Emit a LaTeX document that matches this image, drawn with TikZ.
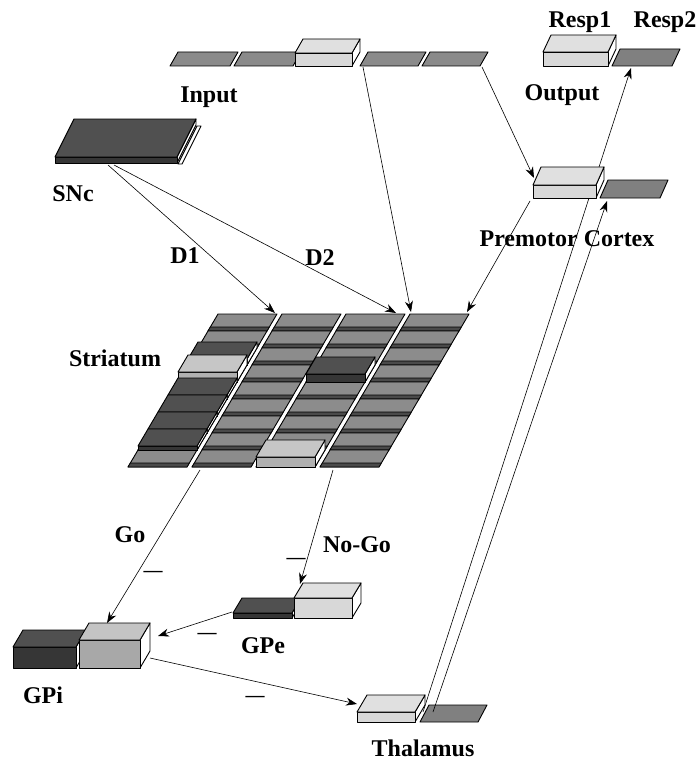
\documentclass[tikz,border=0pt]{standalone}
\usepackage{fontspec}
\setmainfont{Liberation Serif}
\usetikzlibrary{arrows.meta}
\definecolor{ingray}{HTML}{8A8A8A}
\definecolor{midgray}{HTML}{808080}
\definecolor{lightbox}{HTML}{E0E0E0}
\definecolor{lightfront}{HTML}{D8D8D8}
\definecolor{sgray}{HTML}{8C8C8C}
\definecolor{sband}{HTML}{4A4A4A}
\definecolor{dktop}{HTML}{505050}
\definecolor{dkfront}{HTML}{363636}
\definecolor{sltop}{HTML}{C6C6C6}
\definecolor{slfront}{HTML}{B0B0B0}
\definecolor{gpitop}{HTML}{C4C4C4}
\definecolor{gpifront}{HTML}{A8A8A8}
\tikzset{
  unit/.style={draw=black,line width=0.9pt,line join=round},
  lbl/.style={font=\fontsize{24}{26}\selectfont\bfseries,inner sep=0pt},
  minus/.style={font=\fontsize{19}{20}\selectfont\bfseries,inner sep=0pt},
  conn/.style={line width=0.6pt,-{Stealth[length=11pt,width=8pt]}},
}
% x y w d s h topcolor frontcolor
\newcommand\UBox[8]{%
  \filldraw[unit,fill=white] ({#1+#3},#2) -- ({#1+#3+#5},{#2-#4}) -- ({#1+#3+#5},{#2-#4-#6}) -- ({#1+#3},{#2-#6}) -- cycle;
  \filldraw[unit,fill=#8] (#1,#2) rectangle ({#1+#3},{#2-#6});
  \filldraw[unit,fill=#7] (#1,{#2-#6}) -- ({#1+#3},{#2-#6}) -- ({#1+#3+#5},{#2-#6-#4}) -- ({#1+#5},{#2-#6-#4}) -- cycle;
}
% flat unit: x y w d s color
\newcommand\FUnit[6]{%
  \filldraw[unit,fill=#6] (#1,#2) -- ({#1+#3},#2) -- ({#1+#3+#5},{#2-#4}) -- ({#1+#5},{#2-#4}) -- cycle;
}
% striatum cell: i j top band
\newcommand\SCell[4]{%
  \pgfmathsetmacro\cx{128+64*#2+10*#1}\pgfmathsetmacro\cy{467-17*#1}%
  \filldraw[unit,fill=#3] (\cx,\cy) -- ++(59,0) -- ++(10,-17) -- ++(-59,0) -- cycle;
  \filldraw[unit,line width=0.7pt,fill=#4] (\cx,\cy) -- ++(59,0) -- ++(2.35,-4) -- ++(-59,0) -- cycle;
}
% striatum raised box: i j h top front
\newcommand\SBox[5]{%
  \pgfmathsetmacro\cx{128+64*#2+10*#1}\pgfmathsetmacro\cy{467-17*#1}%
  \UBox{\cx}{\cy}{59}{17}{10}{#3}{#4}{#5}%
}
\begin{document}
\begin{tikzpicture}[x=1pt,y=-1pt]
\useasboundingbox (0,0) rectangle (696,760);

% ---------- named end points ----------
\coordinate (snc1) at (108,165);
\coordinate (snc2) at (114,165);
\coordinate (strD1) at (275,313);
\coordinate (strD2) at (396,313);
\coordinate (inOut) at (363,67);
\coordinate (strIn) at (411,312);
\coordinate (inOut2) at (482,67);
\coordinate (pmIn) at (534,178);
\coordinate (pmOut) at (530,201);
\coordinate (strPm) at (467,312);
\coordinate (strGo) at (200,470);
\coordinate (gpiIn) at (107,623);
\coordinate (strNoGo) at (333,470);
\coordinate (gpeIn) at (300,584);
\coordinate (gpeOut) at (232,612);
\coordinate (gpiIn2) at (158,636);
\coordinate (gpiOut) at (150,658);
\coordinate (thIn) at (357,704);
\coordinate (thOut1) at (423,712);
\coordinate (thOut2) at (433,712);
\coordinate (outIn) at (631,68);
\coordinate (pmIn2) at (607,201);

% thalamus -> output (passes behind premotor)
\draw[conn] (thOut1) -- (outIn);

% ---------- Input ----------
\FUnit{170}{66}{60}{14}{8}{ingray}
\FUnit{234}{66}{59}{14}{8}{ingray}
\UBox{295}{66}{57}{14}{8}{13}{lightbox}{lightfront}
\FUnit{360}{66}{58}{14}{8}{ingray}
\FUnit{422}{66}{58}{14}{8}{ingray}
\node[lbl] (input) at (209,97) {Input};

% ---------- Output ----------
\UBox{543}{66}{65}{17}{8}{14}{lightbox}{lightfront}
\FUnit{612}{66}{60}{17}{8}{midgray}
\node[lbl] (resp1) at (580,22) {Resp1};
\node[lbl] (resp2) at (665,22) {Resp2};
\node[lbl] (output) at (562,95) {Output};

% ---------- SNc ----------
\filldraw[unit,fill=white] (178,164) -- (182,164) -- (201,126) -- (197,126) -- cycle;
\UBox{55}{163}{122}{38}{19}{6}{dktop}{dkfront}
\node[lbl] (snc) at (73,194) {SNc};

% ---------- Premotor ----------
\UBox{533}{198}{63}{18}{8}{13}{lightbox}{lightfront}
\FUnit{600}{198}{60}{18}{8}{midgray}
\node[lbl] (premotor) at (567,239) {Premotor Cortex};

% ---------- Striatum ----------
\foreach \i in {8,7,...,0}{\foreach \j in {0,1,2,3}{\SCell{\i}{\j}{sgray}{sband}}}
\SBox{6}{0}{6}{dktop}{dkfront}
\SBox{5}{0}{10}{sltop}{slfront}
\SBox{4}{0}{4}{dktop}{dkfront}
\SBox{3}{0}{4}{dktop}{dkfront}
\SBox{2}{0}{4}{dktop}{dkfront}
\SBox{1}{0}{4}{dktop}{dkfront}
\SBox{5}{2}{8}{dktop}{dkfront}
\SBox{0}{2}{10}{sltop}{slfront}
\node[lbl] (striatum) at (115,358) {Striatum};

% ---------- GPe ----------
\UBox{233}{618}{59}{15}{9}{5}{dktop}{dkfront}
\UBox{294}{618}{58}{15}{9}{20}{lightbox}{lightfront}
\node[lbl] (gpe) at (263,646) {GPe};

% ---------- GPi ----------
\UBox{13}{668}{63}{17}{10}{21}{dktop}{dkfront}
\UBox{79}{668}{61}{17}{10}{28}{gpitop}{gpifront}
\node[lbl] (gpi) at (43,695) {GPi};

% ---------- Thalamus ----------
\UBox{357}{722}{58}{17}{10}{10}{lightbox}{lightfront}
\FUnit{420}{722}{58}{17}{9}{midgray}
\node[lbl] (thalamus) at (423,748) {Thalamus};

% ---------- connectors ----------
\draw[conn] (snc1) -- (strD1);
\draw[conn] (snc2) -- (strD2);
\draw[conn] (inOut) -- (strIn);
\draw[conn] (inOut2) -- (pmIn);
\draw[conn] (pmOut) -- (strPm);
\draw[conn] (strGo) -- (gpiIn);
\draw[conn] (strNoGo) -- (gpeIn);
\draw[conn] (gpeOut) -- (gpiIn2);
\draw[conn] (gpiOut) -- (thIn);
\draw[conn] (thOut2) -- (pmIn2);

\node[lbl] (d1) at (185,256) {D1};
\node[lbl] (d2) at (320,258) {D2};
\node[lbl] (go) at (130,535) {Go};
\node[lbl] (nogo) at (357,545) {No-Go};
\node[minus] (m1) at (153,574) {---};
\node[minus] (m2) at (296,561) {---};
\node[minus] (m3) at (207,636) {---};
\node[minus] (m4) at (255,699) {---};
\end{tikzpicture}
\end{document}
